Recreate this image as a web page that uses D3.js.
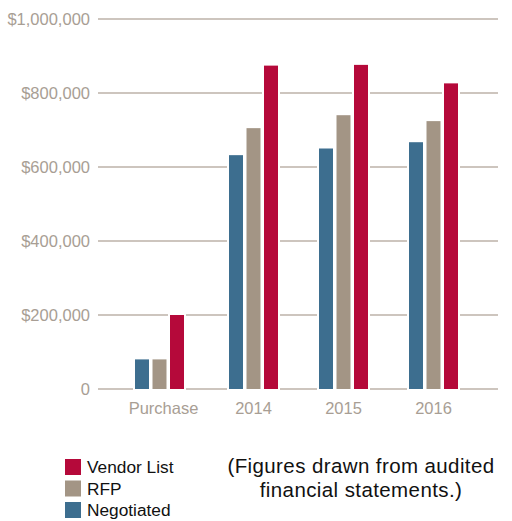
<!DOCTYPE html>
<meta charset="utf-8">
<style>
body { margin: 0; background: #fff; font-family: 'Liberation Sans', Helvetica, Arial, sans-serif; }
.tick-label { fill: #a89e94; font-size: 16.5px; }
.grid { stroke: #bcb2a8; stroke-width: 1.5px; }
.legend-label { fill: #111; font-size: 17.3px; }
.note { fill: #111; font-size: 20.5px; letter-spacing: 0.4px; text-anchor: middle; }
</style>
<body>
<script src="https://d3js.org/d3.v7.min.js"></script>
<script>

// categories and series
var categories = ["Purchase", "2014", "2015", "2016"];
var seriesNames = ["Negotiated", "RFP", "Vendor List"];
var negotiated = [80000, 632000, 650000, 667000];
var rfp = [80000, 705000, 740000, 724000];
var vendorList = [200000, 874000, 876000, 826000];
var yTicks = [0, 200000, 400000, 600000, 800000, 1000000];

var colors = { "Negotiated": "#3d6e8f", "RFP": "#a39585", "Vendor List": "#b5093a" };

var rows = categories.map(function(c, i) {
  return { cat: c, values: [negotiated[i], rfp[i], vendorList[i]] };
});

var svg = d3.select("body").append("svg")
  .attr("width", 512)
  .attr("height", 521);

var y = d3.scaleLinear()
  .domain([0, 1000000])
  .range([389, 19]);

var x0 = d3.scaleBand()
  .domain(categories)
  .range([118.5, 478.5])
  .paddingInner(0);

var x1 = d3.scaleBand()
  .domain(seriesNames)
  .range([(90 - 52.5) / 2, (90 + 52.5) / 2])
  .paddingInner(0.2)
  .paddingOuter(0.1);

// grid lines
svg.append("g").selectAll("line")
  .data(yTicks)
  .enter().append("line")
    .attr("class", "grid")
    .attr("x1", 98)
    .attr("x2", 498)
    .attr("y1", function(d) { return y(d); })
    .attr("y2", function(d) { return y(d); });

// y labels
svg.append("g").selectAll("text")
  .data(yTicks)
  .enter().append("text")
    .attr("class", "tick-label")
    .attr("x", 90)
    .attr("y", function(d) { return y(d); })
    .attr("dy", "0.35em")
    .attr("text-anchor", "end")
    .text(function(d) { return d === 0 ? "0" : d3.format("$,")(d); });

// bars (first group sits a little left of its label in the original)
var groups = svg.append("g").selectAll("g")
  .data(rows)
  .enter().append("g")
    .attr("transform", function(d, i) { return "translate(" + (x0(d.cat) - (i === 0 ? 4 : 0)) + ",0)"; });

groups.selectAll("rect")
  .data(function(d) { return d.values.map(function(v, i) { return { key: seriesNames[i], value: v }; }); })
  .enter().append("rect")
    .attr("x", function(d) { return x1(d.key); })
    .attr("width", x1.bandwidth())
    .attr("y", function(d) { return y(d.value); })
    .attr("height", function(d) { return y(0) - y(d.value); })
    .attr("fill", function(d) { return colors[d.key]; })
    .attr("stroke", "#fff")
    .attr("stroke-width", 4)
    .attr("paint-order", "stroke");

// x labels
svg.append("g").selectAll("text")
  .data(categories)
  .enter().append("text")
    .attr("class", "tick-label")
    .attr("x", function(d) { return x0(d) + x0.bandwidth() / 2; })
    .attr("y", 414)
    .attr("text-anchor", "middle")
    .text(function(d) { return d; });

// legend
var legendOrder = ["Vendor List", "RFP", "Negotiated"];
var legend = svg.append("g").selectAll("g")
  .data(legendOrder)
  .enter().append("g")
    .attr("transform", function(d, i) { return "translate(65," + (459 + i * 21.5) + ")"; });

legend.append("rect")
  .attr("width", 16)
  .attr("height", 16)
  .attr("fill", function(d) { return colors[d]; });

legend.append("text")
  .attr("class", "legend-label")
  .attr("x", 22)
  .attr("y", 8)
  .attr("dy", "0.35em")
  .text(function(d) { return d; });

// note
svg.append("text")
  .attr("class", "note")
  .attr("x", 361)
  .attr("y", 473)
  .text("(Figures drawn from audited");
svg.append("text")
  .attr("class", "note")
  .attr("x", 361)
  .attr("y", 497)
  .text("financial statements.)");

</script>
